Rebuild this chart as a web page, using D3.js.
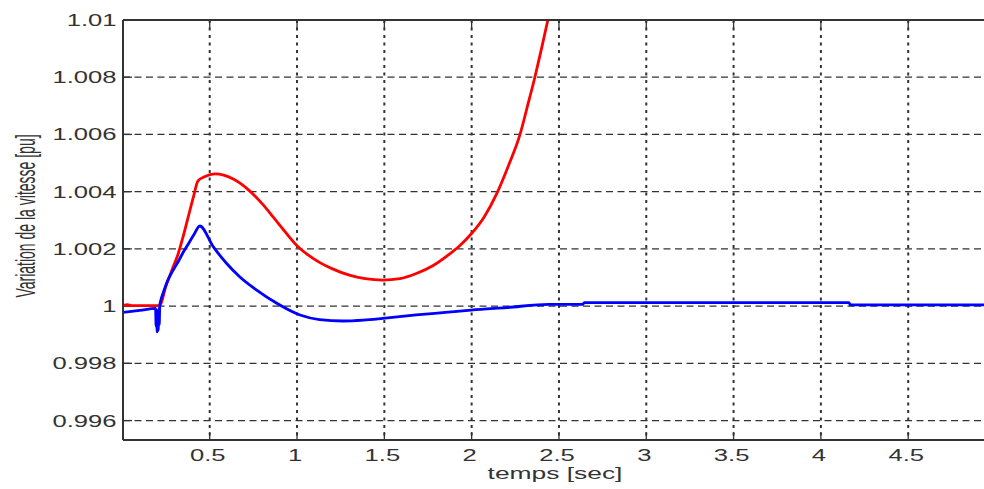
<!DOCTYPE html>
<html>
<head>
<meta charset="utf-8">
<script src="https://cdn.jsdelivr.net/npm/d3@7"></script>
<style>
  html, body { margin: 0; padding: 0; background: #fff; }
  svg { display: block; }
  text { font-family: "Liberation Sans", Arial, sans-serif; fill: #333; }
</style>
</head>
<body>
<svg id="chart" width="984" height="489"></svg>
<script>
// ---- data ----
const xTicks = [0.5, 1, 1.5, 2, 2.5, 3, 3.5, 4, 4.5];
const xTickLabels = ["0.5", "1", "1.5", "2", "2.5", "3", "3.5", "4", "4.5"];
const yTicks = [0.996, 0.998, 1.0, 1.002, 1.004, 1.006, 1.008, 1.01];
const yTickLabels = ["0.996", "0.998", "1", "1.002", "1.004", "1.006", "1.008", "1.01"];

const redT = [0, 0.03, 0.05, 0.212, 0.252, 0.285, 0.319, 0.35, 0.377, 0.406, 0.433, 0.47, 0.529, 0.58, 0.635, 0.73, 0.8, 0.864, 0.93, 1.0, 1.065, 1.131, 1.2, 1.3, 1.39, 1.49, 1.59, 1.683, 1.78, 1.873, 1.93, 1.997, 2.07, 2.145, 2.21, 2.277, 2.32, 2.362, 2.40, 2.44];
const redV = [1.00002, 1.00005, 1.00002, 1.00002, 1.00075, 1.00128, 1.00182, 1.00248, 1.00312, 1.00380, 1.00438, 1.00452, 1.00462, 1.00458, 1.00444, 1.00402, 1.00358, 1.00311, 1.00261, 1.00211, 1.00178, 1.00152, 1.00131, 1.00108, 1.00096, 1.00091, 1.00096, 1.00114, 1.00142, 1.00182, 1.0021, 1.00252, 1.0031, 1.00395, 1.0049, 1.0060, 1.0070, 1.0080, 1.0090, 1.0101];

const blueT = [0, 0.1, 0.19, 0.193, 0.196, 0.199, 0.202, 0.205, 0.208, 0.211, 0.214, 0.22, 0.233, 0.26, 0.29, 0.319, 0.35, 0.38, 0.41, 0.443, 0.521, 0.597, 0.673, 0.769, 0.884, 1.017, 1.129, 1.263, 1.38, 1.491, 1.682, 1.85, 1.997, 2.2, 2.445, 2.636, 2.645, 4.16, 4.17, 4.94];
const blueV = [0.99978, 0.99985, 0.99992, 0.9993, 0.99985, 0.99910, 0.99975, 0.99915, 0.99990, 0.99935, 1.00002, 1.0002, 1.00045, 1.0009, 1.00125, 1.00155, 1.0019, 1.0022, 1.0025, 1.0028, 1.00207, 1.00149, 1.00102, 1.00056, 1.0001, 0.99969, 0.99953, 0.99948, 0.99951, 0.99957, 0.99969, 0.99978, 0.99986, 0.99995, 1.00006, 1.00006, 1.00012, 1.00012, 1.00004, 1.00004];

// ---- layout ----
const mLeft = 123, mTop = 20, mBottom = 440, mRight = 984;
const sx = 1.6; // horizontal stretch of the original's text

const svg = d3.select("#chart");
const x = d3.scaleLinear().domain([0, 4.934]).range([122.4, 984]);
const y = d3.scaleLinear().domain([0.99532, 1.01]).range([mBottom, mTop]);

svg.append("defs").append("clipPath").attr("id", "plotclip")
  .append("rect").attr("x", mLeft).attr("y", mTop).attr("width", mRight - mLeft).attr("height", mBottom - mTop);

// grid lines
const grid = svg.append("g");
grid.selectAll("line.h").data(yTicks).join("line")
  .attr("x1", mLeft).attr("x2", mRight)
  .attr("y1", d => y(d)).attr("y2", d => y(d))
  .attr("stroke", "#333").attr("stroke-width", 1.3)
  .attr("stroke-dasharray", "7,4.5");
grid.selectAll("line.v").data(xTicks).join("line")
  .attr("x1", d => x(d)).attr("x2", d => x(d))
  .attr("y1", mTop).attr("y2", mBottom)
  .attr("stroke", "#333").attr("stroke-width", 2)
  .attr("stroke-dasharray", "3,4.5");

// ticks (inward)
const tk = svg.append("g").attr("stroke", "#333").attr("stroke-width", 1.3);
tk.selectAll("line.yt").data(yTicks).join("line")
  .attr("x1", mLeft).attr("x2", mLeft + 9)
  .attr("y1", d => y(d)).attr("y2", d => y(d));
tk.selectAll("line.xb").data(xTicks).join("line")
  .attr("x1", d => x(d)).attr("x2", d => x(d))
  .attr("y1", mBottom).attr("y2", mBottom - 8);
tk.selectAll("line.xt").data(xTicks).join("line")
  .attr("x1", d => x(d)).attr("x2", d => x(d))
  .attr("y1", mTop).attr("y2", mTop + 8);

// curves
const line = d3.line().curve(d3.curveMonotoneX).x(d => x(d[0])).y(d => y(d[1]));
const plot = svg.append("g").attr("clip-path", "url(#plotclip)");
plot.append("path").datum(redT.map((t, i) => [t, redV[i]]))
  .attr("d", line).attr("fill", "none").attr("stroke", "#ff0000")
  .attr("stroke-width", 2.8).attr("stroke-linejoin", "round");
plot.append("path").datum(blueT.map((t, i) => [t, blueV[i]]))
  .attr("d", line).attr("fill", "none").attr("stroke", "#0000ff")
  .attr("stroke-width", 2.8).attr("stroke-linejoin", "round");

// axis lines
const ax = svg.append("g").attr("stroke", "#333").attr("stroke-width", 2);
ax.append("line").attr("x1", mLeft).attr("x2", mLeft).attr("y1", mTop).attr("y2", mBottom);
ax.append("line").attr("x1", mLeft).attr("x2", mRight).attr("y1", mBottom).attr("y2", mBottom);
ax.append("line").attr("x1", mLeft).attr("x2", mRight).attr("y1", mTop).attr("y2", mTop);

// tick labels
svg.append("g").selectAll("text").data(yTicks).join("text")
  .attr("transform", d => `translate(116.5,${y(d) + 6}) scale(${sx},1)`)
  .attr("text-anchor", "end").attr("font-size", 16)
  .text((d, i) => yTickLabels[i]);
svg.append("g").selectAll("text").data(xTicks).join("text")
  .attr("transform", d => `translate(${x(d) - 2},460.5) scale(${sx},1)`)
  .attr("text-anchor", "middle").attr("font-size", 16)
  .text((d, i) => xTickLabels[i]);

// axis titles
svg.append("text")
  .attr("transform", `translate(555,479) scale(1.65,1)`)
  .attr("text-anchor", "middle").attr("font-size", 16)
  .text("temps [sec]");
svg.append("text")
  .attr("transform", `translate(35,216) scale(1.95,1) rotate(-90)`)
  .attr("text-anchor", "middle").attr("font-size", 14)
  .text("Variation de la vitesse [pu]");
</script>
</body>
</html>
